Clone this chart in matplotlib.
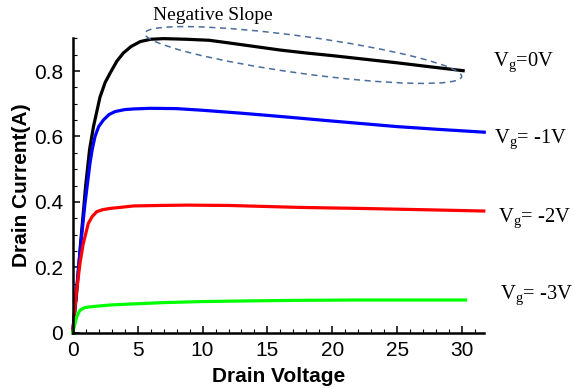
import matplotlib
matplotlib.use("Agg")
import matplotlib.pyplot as plt
from matplotlib.patches import Ellipse
from matplotlib.ticker import MultipleLocator, FuncFormatter

# Output characteristics of the transistor: drain current vs drain voltage
vd_0 = [0, 0.3, 0.6, 1.0, 1.3, 1.6, 2.1, 2.5, 2.9, 3.4, 3.9, 4.5, 5.2, 6.0, 7.0,
        8.8, 10.5, 12, 14, 16, 18, 20, 22.5, 25, 27.5, 30.07]
id_0 = [0, 0.12, 0.27, 0.45, 0.56, 0.63, 0.72, 0.765, 0.795, 0.83, 0.855, 0.875,
        0.89, 0.897, 0.899, 0.897, 0.894, 0.886, 0.875, 0.864, 0.855, 0.847,
        0.836, 0.825, 0.813, 0.801]

vd_1 = [0, 0.2, 0.43, 0.7, 0.95, 1.15, 1.33, 1.5, 1.72, 2.0, 2.36, 2.8, 3.26, 4.0,
        4.67, 6.0, 8, 10, 13, 16, 20, 25, 28, 31.7]
id_1 = [0, 0.09, 0.19, 0.3, 0.396, 0.46, 0.518, 0.56, 0.6, 0.63, 0.65, 0.667,
        0.676, 0.682, 0.684, 0.686, 0.685, 0.68, 0.671, 0.661, 0.647, 0.63,
        0.622, 0.613]

vd_2 = [0, 0.25, 0.56, 0.8, 0.95, 1.2, 1.5, 1.85, 2.3, 2.88, 3.65, 4.67, 6.7,
        8.8, 12, 17.5, 22, 27, 31.66]
id_2 = [0, 0.11, 0.212, 0.27, 0.294, 0.334, 0.355, 0.37, 0.376, 0.38, 0.383,
        0.3875, 0.389, 0.39, 0.389, 0.383, 0.38, 0.376, 0.372]

vd_3 = [0, 0.31, 0.56, 0.95, 1.33, 2.1, 3.0, 4.67, 7, 9.8, 13, 17.5, 22, 26, 30.25]
id_3 = [0, 0.049, 0.069, 0.077, 0.079, 0.082, 0.085, 0.088, 0.092, 0.095, 0.097,
        0.099, 0.1, 0.1, 0.1]

gate_labels = ["V$_{\\rm g}$=0V", "V$_{\\rm g}$= -1V", "V$_{\\rm g}$= -2V", "V$_{\\rm g}$= -3V"]
x_ticks = [0, 5, 10, 15, 20, 25, 30]
y_ticks = [0, 0.2, 0.4, 0.6, 0.8]

plt.rcParams["font.family"] = ["Liberation Sans", "DejaVu Sans"]
plt.rcParams["mathtext.fontset"] = "custom"
plt.rcParams["mathtext.rm"] = "Liberation Serif"

W, H = 575, 388
fig = plt.figure(figsize=(W / 100, H / 100), dpi=100)
ax = fig.add_axes([72.7 / W, 1 - 332.7 / H, (484.3 - 72.7) / W, (332.7 - 38.3) / H])

lw = 2.3
ax.plot(vd_0, id_0, color="black", lw=lw, solid_joinstyle="round", clip_on=False)
ax.plot(vd_1, id_1, color="#0000ff", lw=lw, solid_joinstyle="round", clip_on=False)
ax.plot(vd_2, id_2, color="#ff0000", lw=lw, solid_joinstyle="round", clip_on=False)
ax.plot(vd_3, id_3, color="#00ff00", lw=lw, solid_joinstyle="round", clip_on=False)

ax.set_xlim(0, 31.7)
ax.set_ylim(0, 0.9)
for side in ("top", "right"):
    ax.spines[side].set_visible(False)
for side in ("left", "bottom"):
    ax.spines[side].set_linewidth(1.8)

ax.set_xticks(x_ticks)
ax.set_yticks(y_ticks)
ax.xaxis.set_minor_locator(MultipleLocator(1))
ax.yaxis.set_minor_locator(MultipleLocator(0.05))
ax.yaxis.set_major_formatter(FuncFormatter(lambda v, p: "0" if v == 0 else f"{v:.1f}"))
ax.tick_params(which="major", direction="in", length=5, width=1.1, labelsize=15, pad=6)
ax.tick_params(which="minor", direction="in", length=2.8, width=0.8)
ax.tick_params(axis="y", which="major", pad=7)

ax.set_xlabel("Drain Voltage", fontsize=15, fontweight="bold", labelpad=5)
ax.set_ylabel("Drain Current(A)", fontsize=15, fontweight="bold", labelpad=2)

# Gate-voltage labels to the right of each curve
label_pos = [(493, 66.7), (494, 143), (498, 222.7), (500, 299)]
for txt, (px, py) in zip(gate_labels, label_pos):
    fig.text(px / W, 1 - py / H, txt, fontsize=14.8, va="baseline", ha="left",
             family="Liberation Serif")

# Highlight of the negative-slope region
fig.text(153 / W, 1 - 19.5 / H, "Negative Slope", fontsize=14, va="baseline",
         ha="left", family="Liberation Serif")
ell = Ellipse((303.3 / 100, (H - 55) / 100), width=3.196, height=0.37, angle=-7.8,
              transform=fig.dpi_scale_trans, fill=False, edgecolor="#4a6d9c",
              lw=1.1, linestyle=(0, (4, 3)))
fig.add_artist(ell)

fig.savefig("out.png", dpi=100)
